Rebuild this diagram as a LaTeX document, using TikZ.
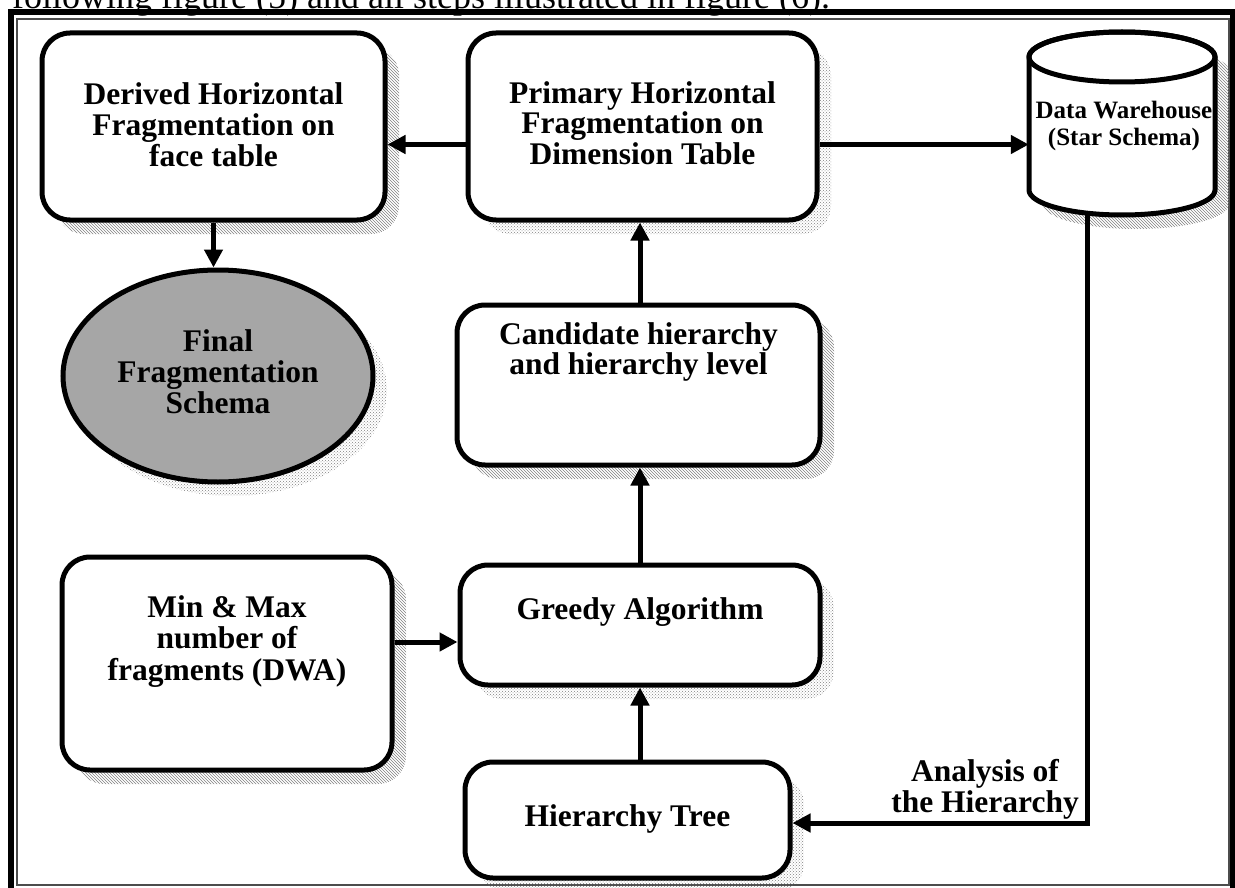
\documentclass[tikz,border=0pt]{standalone}
\usepackage{fontspec}
\setmainfont{Liberation Serif}
\usetikzlibrary{arrows.meta,patterns,shapes.geometric,shadows,calc}

% shift the printed lines of a box up without changing its size
\newcommand\liftup[2]{\raisebox{#1}[\height][\depth]{\begin{tabular}{@{}c@{}}#2\end{tabular}}}
\newcommand\boxfont{\fontsize{31.5}{30}\selectfont\bfseries}
\newcommand\cylfont{\fontsize{25}{27}\selectfont\bfseries}

\tikzset{
  stepbox/.style={draw, line width=5pt, rounded corners=28pt, fill=white,
    inner sep=0pt, font=\boxfont},
  hatchshadow/.style={general shadow={shadow xshift=14pt, shadow yshift=-14pt,
    pattern=north west lines, pattern color=gray}},
  dotshadow/.style={general shadow={shadow xshift=14pt, shadow yshift=-14pt,
    pattern=crosshatch dots, pattern color=gray}},
  flow/.style={line width=5pt, -{Triangle[length=18pt,width=18pt]}},
}

\begin{document}
\begin{tikzpicture}[x=1pt, y=-1pt]
\useasboundingbox (0,0) rectangle (1235,888);
\clip (0,0) rectangle (1235,888);

% running text of the page above the figure
\node[anchor=base west, inner sep=0pt, font=\fontsize{36}{40}\selectfont] (caption)
  at (12,9) {following figure (5) and all steps illustrated in figure (6).};

% page frame: thick outer rule and thin inner rule
\draw[line width=6pt] (11,12.5) rectangle (1233,893);
\draw[line width=1.5pt, black!70] (17,19) rectangle (1229,885);

% boxes
\node[stepbox, hatchshadow, minimum width=343pt, minimum height=187pt] (d) at (213.5,126.5)
  {\liftup{-3pt}{Derived Horizontal\\Fragmentation on\\face table}};
\node[stepbox, dotshadow, minimum width=349pt, minimum height=187pt] (p) at (642.5,126.5)
  {\liftup{-1pt}{Primary Horizontal\\Fragmentation on\\Dimension Table}};
\node[stepbox, hatchshadow, minimum width=363pt, minimum height=160pt] (c) at (638.5,385)
  {\liftup{32pt}{Candidate hierarchy\\and hierarchy level}};
\node[stepbox, hatchshadow, minimum width=330pt, minimum height=213pt] (m) at (227,663.5)
  {\liftup{21pt}{Min \& Max\\number of\\fragments (DWA)}};
\node[stepbox, dotshadow, minimum width=360pt, minimum height=120pt] (g) at (640,625)
  {\liftup{12pt}{Greedy Algorithm}};
\node[stepbox, dotshadow, minimum width=325pt, minimum height=116pt] (ht) at (627.5,820)
  {\liftup{0pt}{Hierarchy Tree}};

% final schema
\node[ellipse, draw, line width=5pt, fill=black!35, dotshadow, inner sep=0pt,
  minimum width=310pt, minimum height=212pt, font=\boxfont] (fin) at (218,376)
  {\begin{tabular}{@{}c@{}}Final\\Fragmentation\\Schema\end{tabular}};

% data warehouse cylinder
\node[minimum width=186pt, minimum height=183pt, inner sep=0pt] (dw) at (1122,123.5) {};
\fill[pattern=north west lines, pattern color=gray, shift={(14,14)}]
  (1029,57) -- (1029,190) arc[start angle=180, end angle=0, x radius=93, y radius=25]
  -- (1215,57) arc[start angle=0, end angle=-180, x radius=93, y radius=25] -- cycle;
\draw[line width=5pt, fill=white]
  (1029,57) -- (1029,190) arc[start angle=180, end angle=0, x radius=93, y radius=25]
  -- (1215,57) arc[start angle=0, end angle=-180, x radius=93, y radius=25] -- cycle;
\draw[line width=5pt] (1122,57) ellipse[x radius=93, y radius=25];
\node[font=\cylfont, inner sep=0pt] (dwtext) at (1124,127)
  {\begin{tabular}{@{}c@{}}Data Warehouse\\(Star Schema)\end{tabular}};

% connectors
\coordinate (col) at (640,0);
\coordinate (turn) at (1087,0);
\draw[flow] ([yshift=-18pt]p.west) -- ([yshift=-18pt]p.west -| d.east);
\draw[flow] ([yshift=-18pt]p.east) -- ([yshift=-18pt]p.east -| dw.west);
\draw[flow] (d.south) -- (d.south |- fin.north);
\draw[flow] (c.north -| col) -- (p.south -| col);
\draw[flow] (g.north -| col) -- (c.south -| col);
\draw[flow] (ht.north -| col) -- (g.south -| col);
\draw[flow] ([yshift=-17pt]g.west -| m.east) -- ([yshift=-17pt]g.west);
\draw[flow] (dw.south -| turn) |- ([yshift=-3pt]ht.east);

\node[font=\boxfont, inner sep=0pt] (lab) at (985,790)
  {\begin{tabular}{@{}c@{}}Analysis of\\the Hierarchy\end{tabular}};
\end{tikzpicture}
\end{document}
